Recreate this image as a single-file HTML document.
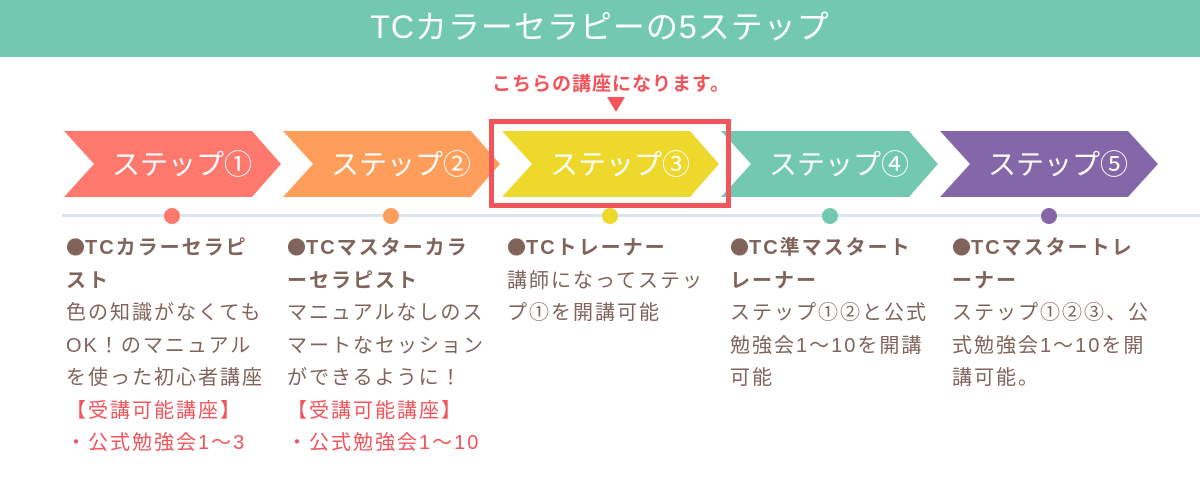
<!DOCTYPE html>
<html><head><meta charset="utf-8"><style>
body{margin:0;width:1200px;height:500px;background:#fff;position:relative;overflow:hidden;font-family:"Liberation Sans","Noto Sans CJK JP",sans-serif}
.hdr{position:absolute;left:0;top:0;width:1200px;height:57px;background:#72C8B1;color:#fff;font-size:32px;letter-spacing:1px;text-align:center;line-height:55px}
.col{position:absolute;top:231px;font-size:20px;line-height:32.5px;color:#80645c;letter-spacing:2px;white-space:nowrap}
.col b{font-weight:bold}
.d{font-family:"Noto Sans CJK JP",sans-serif;font-size:19px;letter-spacing:0}
.r{color:#f2545b}
</style></head><body>
<div class="hdr">TCカラーセラピーの5ステップ</div>
<div style="position:absolute;left:492px;top:69px;font-size:19px;font-weight:bold;color:#f2545b;letter-spacing:1px">こちらの講座になります。</div>
<svg width="1200" height="500" style="position:absolute;left:0;top:0">
<polygon points="607,97 625,97 616,112" fill="#f2545b"/>
<g font-family="Liberation Sans,Noto Sans CJK JP,sans-serif" font-size="28" fill="#fff" text-anchor="middle">
<polygon points="64,131 252,131 281,164 252,197 64,197 94,164" fill="#FF786E"/>
<text x="182" y="174">ステップ①</text>
<polygon points="283,131 471,131 500,164 471,197 283,197 313,164" fill="#FF9D5A"/>
<text x="401" y="174">ステップ②</text>
<polygon points="502,131 690,131 719,164 690,197 502,197 532,164" fill="#EED82C"/>
<text x="620" y="174">ステップ③</text>
<polygon points="721,131 909,131 938,164 909,197 721,197 751,164" fill="#72C8B1"/>
<text x="839" y="174">ステップ④</text>
<polygon points="940,131 1128,131 1158,164 1128,197 940,197 970,164" fill="#8467A8"/>
<text x="1058" y="174">ステップ⑤</text>
</g>
<rect x="491.5" y="121.5" width="237" height="84" fill="none" stroke="#f2545b" stroke-width="5"/>
<rect x="62" y="214" width="1138" height="3" fill="#dde3ef"/>
<circle cx="172" cy="216" r="8" fill="#FF786E"/>
<circle cx="391" cy="216" r="8" fill="#FF9D5A"/>
<circle cx="610" cy="216" r="8" fill="#EED82C"/>
<circle cx="830" cy="216" r="8" fill="#72C8B1"/>
<circle cx="1049" cy="216" r="8" fill="#8467A8"/>
</svg>
<div class="col" style="left:66px"><b><span class="d">●</span>TCカラーセラピ<br>スト</b><br>色の知識がなくても<br>OK！のマニュアル<br>を使った初心者講座<br><span class="r">【受講可能講座】<br>・公式勉強会1〜3</span></div>
<div class="col" style="left:287px"><b><span class="d">●</span>TCマスターカラ<br>ーセラピスト</b><br>マニュアルなしのス<br>マートなセッション<br>ができるように！<br><span class="r">【受講可能講座】<br>・公式勉強会1〜10</span></div>
<div class="col" style="left:507px"><b><span class="d">●</span>TCトレーナー</b><br>講師になってステッ<br>プ①を開講可能</div>
<div class="col" style="left:730px"><b><span class="d">●</span>TC準マスタート<br>レーナー</b><br>ステップ①②と公式<br>勉強会1〜10を開講<br>可能</div>
<div class="col" style="left:952px"><b><span class="d">●</span>TCマスタートレ<br>ーナー</b><br>ステップ①②③、公<br>式勉強会1〜10を開<br>講可能。</div>
</body></html>
